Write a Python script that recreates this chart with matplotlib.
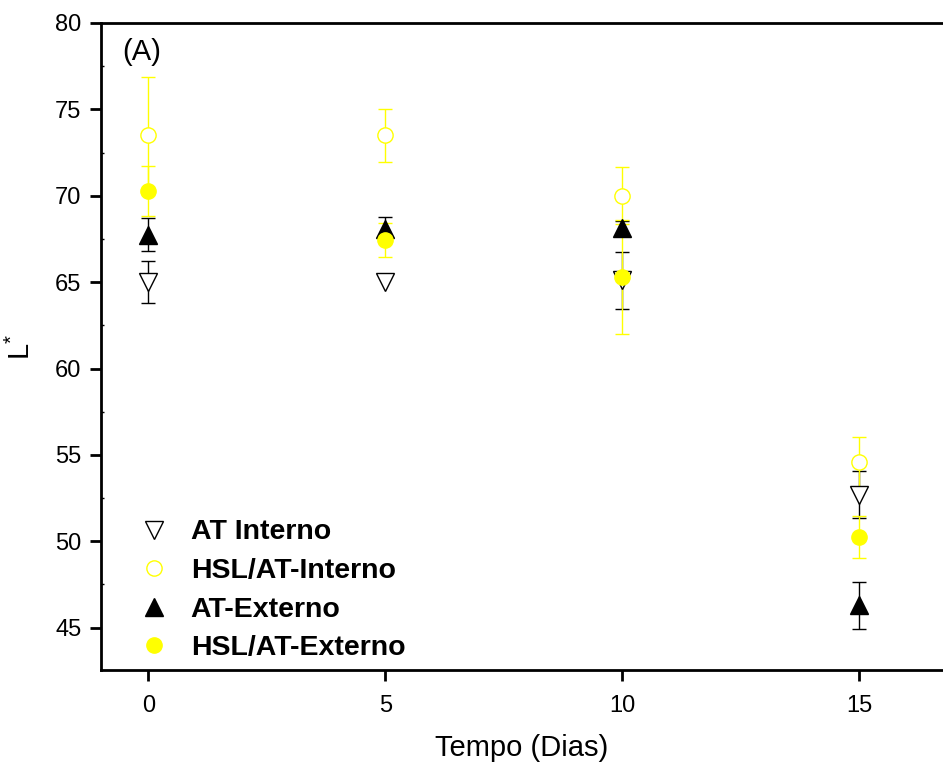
import matplotlib
matplotlib.use("Agg")
import matplotlib.pyplot as plt
from matplotlib.ticker import MultipleLocator

plt.rcParams["font.family"] = ["Liberation Sans", "DejaVu Sans"]
plt.rcParams["mathtext.fontset"] = "custom"
plt.rcParams["mathtext.rm"] = "Liberation Sans"
plt.rcParams["mathtext.it"] = "Liberation Sans:italic"

dias = [0, 5, 10, 15]

at_interno = [65.0, 65.0, 65.1, 52.7]
at_interno_err = [1.2, float("nan"), 1.65, 1.35]

hsl_interno = [73.5, 73.5, 70.0, 54.6]
hsl_interno_err = [3.4, 1.55, 1.65, 1.45]

at_externo = [67.75, 68.1, 68.15, 46.3]
at_externo_err = [0.95, 0.65, 0.4, 1.35]

hsl_externo = [70.25, 67.45, 65.3, 50.25]
hsl_externo_err = [1.45, 1.0, 3.3, 1.23]

YELLOW = "#FFFF00"

fig = plt.figure(figsize=(9.43, 7.67), dpi=100)
ax = fig.add_axes([101 / 943, 97 / 767, 842 / 943, 647 / 767])

common = dict(linestyle="none", capsize=4.7, elinewidth=1.0, capthick=1.0)

series = [
    (at_interno, at_interno_err, "v", 13, "white", "black", "AT Interno"),
    (hsl_interno, hsl_interno_err, "o", 11, "white", YELLOW, "HSL/AT-Interno"),
    (at_externo, at_externo_err, "^", 13, "black", "black", "AT-Externo"),
    (hsl_externo, hsl_externo_err, "o", 11, YELLOW, YELLOW, "HSL/AT-Externo"),
]
handles = []
for vals, err, mk, ms, fc, ec, lab in series:
    cont = ax.errorbar(dias, vals, yerr=err, marker=mk, ms=ms, mfc=fc,
                       mec=ec, mew=1.0, ecolor=ec, label=lab, **common)
    handles.append(cont[0])

ax.set_xlim(-1.0, 16.77)
ax.set_ylim(42.55, 80)
ax.xaxis.set_major_locator(MultipleLocator(5))
ax.yaxis.set_major_locator(MultipleLocator(5))
ax.yaxis.set_minor_locator(MultipleLocator(2.5))

ax.spines["right"].set_visible(False)
for s in ("left", "bottom", "top"):
    ax.spines[s].set_linewidth(2.0)

ax.tick_params(axis="both", which="major", direction="out", length=8,
               width=2.0, labelsize=17)
ax.tick_params(axis="x", which="major", pad=10)
ax.tick_params(axis="y", which="major", pad=6)
ax.tick_params(axis="y", which="minor", direction="in", length=2, width=1.0)
ax.tick_params(top=False, right=False)

ax.set_xlabel("Tempo (Dias)", fontsize=21, labelpad=12)
ax.set_ylabel("L$^{*}$", fontsize=21, labelpad=14)

ax.text(0.025, 0.977, "(A)", transform=ax.transAxes, fontsize=21,
        va="top", ha="left")

ax.legend(handles, [s[-1] for s in series], loc="lower left",
          bbox_to_anchor=(0.022, -0.017), frameon=False,
          prop={"weight": "bold", "size": 20.5}, handlelength=1.0,
          handletextpad=0.8, labelspacing=0.44, markerscale=1.0,
          borderpad=0.2)

fig.savefig("out.png", dpi=100)
